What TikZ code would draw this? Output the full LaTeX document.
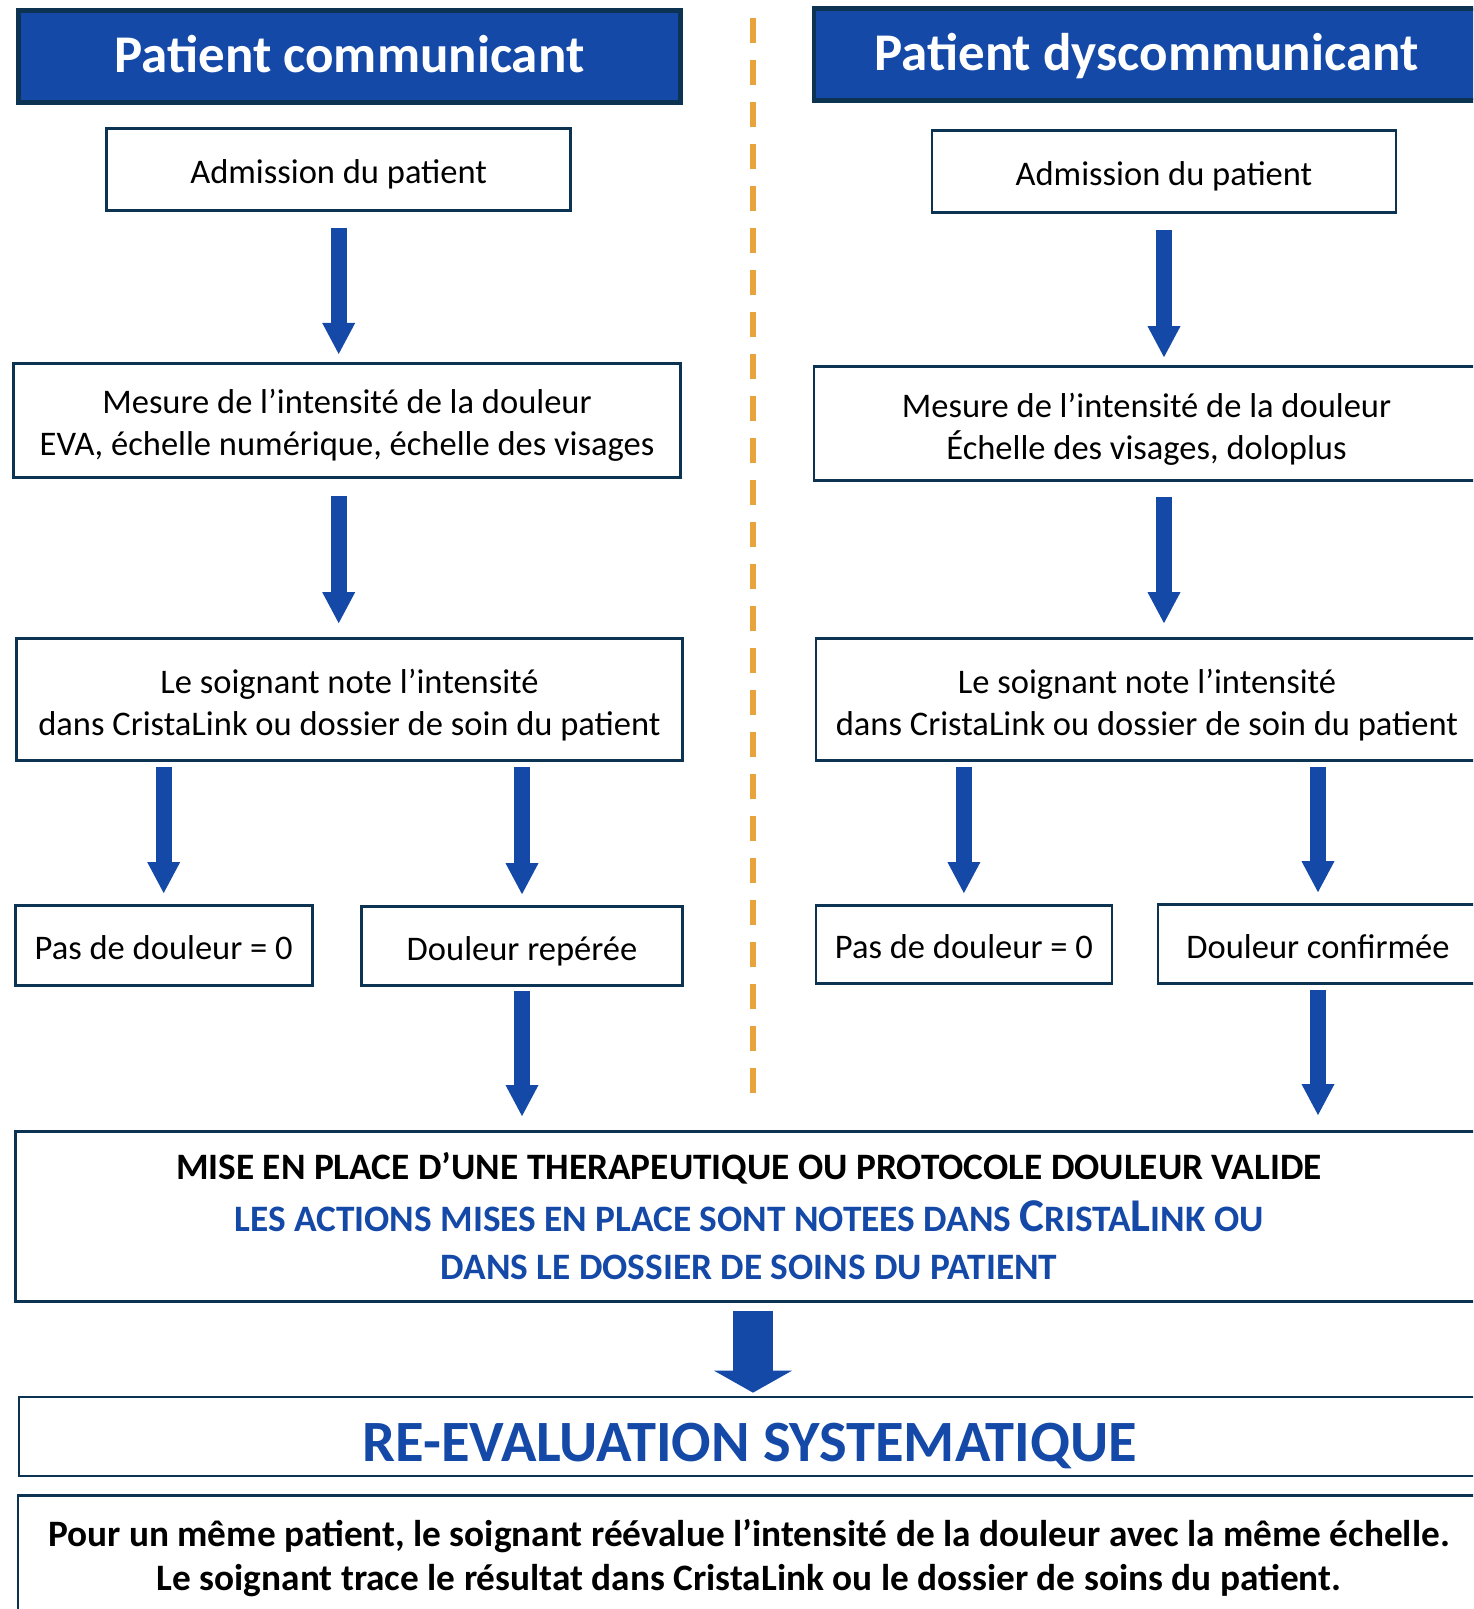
\documentclass[tikz,border=0pt]{standalone}
\usepackage{fontspec}
\setmainfont{Carlito}
\usetikzlibrary{arrows.meta}

\definecolor{hdrblue}{RGB}{20,73,168}
\definecolor{boxline}{RGB}{12,52,82}
\definecolor{sepline}{RGB}{232,163,61}

\newcommand\smc[1]{{\fontsize{37.3}{44}\selectfont #1}}
\newcommand\bigc[1]{{\fontsize{47}{48}\selectfont #1}}

\tikzset{
  box/.style={draw=boxline,line width=2.7pt,fill=white,align=center,inner sep=0pt,
    font=\fontsize{34.5}{42}\selectfont},
  oneline/.style={text height=34pt,text depth=5pt},
  twoline/.style={text height=76pt,text depth=5pt},
  header/.style={draw=boxline,line width=4.5pt,fill=hdrblue,text=white,inner sep=0pt,
    text height=40pt,text depth=8pt,font=\fontsize{53}{60}\selectfont\bfseries},
  downarrow/.style={hdrblue,line width=16pt,-{Triangle[width=33pt,length=31pt,line width=0pt]}},
  bigarrow/.style={hdrblue,line width=40pt,-{Triangle[width=78pt,length=22pt,line width=0pt]}},
}

\begin{document}
\begin{tikzpicture}[x=1pt,y=-1pt]
\useasboundingbox (0,0) rectangle (1473,1609);
\clip (0,0) rectangle (1473,1609);
\draw[sepline,line width=5.5pt,dash pattern=on 24.4pt off 17.6pt] (753,18.3) -- (753,1092.7);

% left column
\node[header,minimum width=662pt,minimum height=92pt] (hdrL) at (349.5,56.5) {Patient communicant};
\node[box,oneline,minimum width=464pt,minimum height=82pt] (admL) at (338.7,169.3) {Admission du patient};
\node[box,twoline,minimum width=667pt,minimum height=114pt] (mesL) at (347,420.3) {Mesure de l’intensité de la douleur\\EVA, échelle numérique, échelle des visages};
\node[box,twoline,minimum width=666pt,minimum height=122pt] (soiL) at (349.5,699.5) {Le soignant note l’intensité\\dans CristaLink ou dossier de soin du patient};
\node[box,oneline,minimum width=297pt,minimum height=80pt] (pasL) at (163.7,945.4) {Pas de douleur = 0};
\node[box,oneline,minimum width=321pt,minimum height=79pt] (repL) at (522,946) {Douleur repérée};

% right column
\node[header,minimum width=665pt,minimum height=92pt] (hdrR) at (1146.5,54.4) {Patient dyscommunicant};
\node[box,oneline,minimum width=464pt,minimum height=82pt] (admR) at (1164,171.4) {Admission du patient};
\node[box,twoline,minimum width=665pt,minimum height=114pt] (mesR) at (1146.5,423.5) {Mesure de l’intensité de la douleur\\Échelle des visages, doloplus};
\node[box,twoline,minimum width=662pt,minimum height=122pt] (soiR) at (1147,699.5) {Le soignant note l’intensité\\dans CristaLink ou dossier de soin du patient};
\node[box,oneline,minimum width=296pt,minimum height=78pt] (pasR) at (963.9,944.4) {Pas de douleur = 0};
\node[box,oneline,minimum width=320pt,minimum height=79pt] (conR) at (1318,944) {Douleur confirmée};

% bottom
\node[box,minimum width=1467pt,minimum height=170pt,font=\fontsize{37.3}{48}\selectfont\bfseries] (mise) at (749,1216.4)
  {MISE EN PLACE D’UNE THERAPEUTIQUE OU PROTOCOLE DOULEUR VALIDE\\[4pt]
   \color{hdrblue}\smc{LES ACTIONS MISES EN PLACE SONT NOTEES DANS }\bigc{C}\smc{RISTA}\bigc{L}\smc{INK OU}\\
   \color{hdrblue}\smc{DANS LE DOSSIER DE SOINS DU PATIENT}};
\node[box,minimum width=1462pt,minimum height=79pt,text=hdrblue,text height=50.4pt,text depth=0pt,
  font=\fontsize{58.5}{64}\selectfont\bfseries] (reev) at (750,1436.5) {RE-EVALUATION SYSTEMATIQUE};
\node[box,minimum width=1462pt,minimum height=122pt,text height=72pt,text depth=5pt,
  font=\fontsize{37.3}{44}\selectfont\bfseries] (fin) at (749,1556.7)
  {Pour un même patient, le soignant réévalue l’intensité de la douleur avec la même échelle.\\
   Le soignant trace le résultat dans CristaLink ou le dossier de soins du patient.};

% arrows
\draw[downarrow,shorten <=16pt,shorten >=8pt] (admL.south) -- (admL.south |- mesL.north);
\draw[downarrow,shorten <=16pt,shorten >=8pt] (admR.south) -- (admR.south |- mesR.north);
\draw[downarrow,shorten <=17pt,shorten >=14pt] (admL.south |- mesL.south) -- (admL.south |- soiL.north);
\draw[downarrow,shorten <=15pt,shorten >=14pt] (admR.south |- mesR.south) -- (admR.south |- soiR.north);
\draw[downarrow,shorten <=5pt,shorten >=11pt] (pasL.north |- soiL.south) -- (pasL.north);
\draw[downarrow,shorten <=5pt,shorten >=11pt] (repL.north |- soiL.south) -- (repL.north);
\draw[downarrow,shorten <=5pt,shorten >=11pt] (pasR.north |- soiR.south) -- (pasR.north);
\draw[downarrow,shorten <=5pt,shorten >=11pt] (conR.north |- soiR.south) -- (conR.north);
\draw[downarrow,shorten <=4pt,shorten >=14pt] (repL.south) -- (repL.south |- mise.north);
\draw[downarrow,shorten <=5pt,shorten >=15pt] (conR.south) -- (conR.south |- mise.north);
\draw[bigarrow,shorten <=8pt,shorten >=3pt] (mise.south -| 753,0) -- (reev.north -| 753,0);
\end{tikzpicture}
\end{document}
